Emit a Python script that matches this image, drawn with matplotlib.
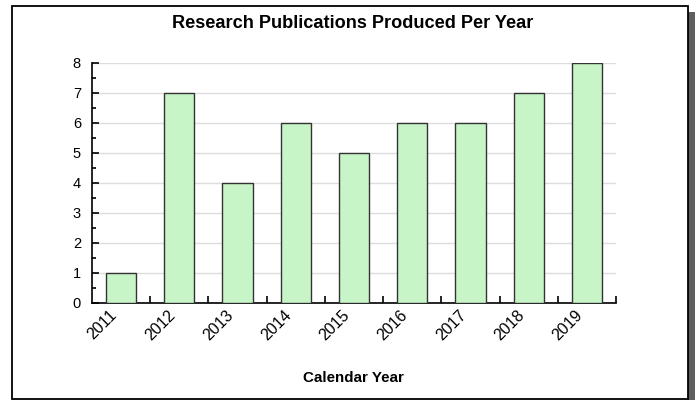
import matplotlib
matplotlib.use("Agg")
import matplotlib.pyplot as plt
from matplotlib.patches import Rectangle
from matplotlib.ticker import MultipleLocator, FixedLocator
from matplotlib.transforms import ScaledTranslation

years = ["2011", "2012", "2013", "2014", "2015", "2016", "2017", "2018", "2019"]
publications = [1, 7, 4, 6, 5, 6, 6, 7, 8]

plt.rcParams['font.family'] = ['Liberation Sans', 'DejaVu Sans']

W, H = 696, 400
fig = plt.figure(figsize=(W / 100, H / 100), dpi=100)

# frame and shadow
fig.patches.append(Rectangle((688 / W, 0), 7 / W, (H - 12) / H, transform=fig.transFigure,
                             facecolor="#5f5f5f", edgecolor="none", zorder=-2))
fig.patches.append(Rectangle((12 / W, 1 / H), 676 / W, 393 / H, transform=fig.transFigure,
                             facecolor="white", edgecolor="black", linewidth=1.3, zorder=-1))

ax = fig.add_axes([92 / W, (H - 303) / H, (616 - 92) / W, (303 - 63) / H])
ax.set_facecolor("none")
x = range(len(years))
ax.bar(x, publications, width=0.52, color="#c8f5c8", edgecolor="#333333", linewidth=1.0, zorder=3)

ax.set_xlim(-0.5, len(years) - 0.5)
ax.set_ylim(0, 8)
ax.yaxis.set_major_locator(MultipleLocator(1))
ax.yaxis.set_minor_locator(MultipleLocator(0.5))
ax.grid(axis="y", which="major", color="#dddddd", linewidth=1.0, zorder=0)

ax.set_xticks(list(x))
ax.set_xticklabels(years, rotation=45, ha="right", rotation_mode="anchor", fontsize=11.5)
ax.tick_params(axis="x", which="major", length=0, pad=3)
shift = ScaledTranslation(-12 / 100, 0, fig.dpi_scale_trans)
for lbl in ax.get_xticklabels():
    lbl.set_transform(lbl.get_transform() + shift)
ax.xaxis.set_minor_locator(FixedLocator([i + 0.5 for i in range(len(years))]))
ax.tick_params(axis="x", which="minor", direction="in", length=5, width=1.2, color="black")
ax.tick_params(axis="y", which="major", direction="in", length=5, width=1.2, labelsize=10.5, pad=8)
ax.tick_params(axis="y", which="minor", direction="in", length=3, width=1.2)

for s in ["top", "right"]:
    ax.spines[s].set_visible(False)
for s in ["left", "bottom"]:
    ax.spines[s].set_linewidth(1.2)

fig.text(353 / W, 1 - 23 / H, "Research Publications Produced Per Year", ha="center", va="center",
         fontsize=13.1, fontweight="bold")
fig.text(353 / W, 1 - 378 / H, "Calendar Year", ha="center", va="center", fontsize=10.9, fontweight="bold")

fig.savefig("out.png", dpi=100)
